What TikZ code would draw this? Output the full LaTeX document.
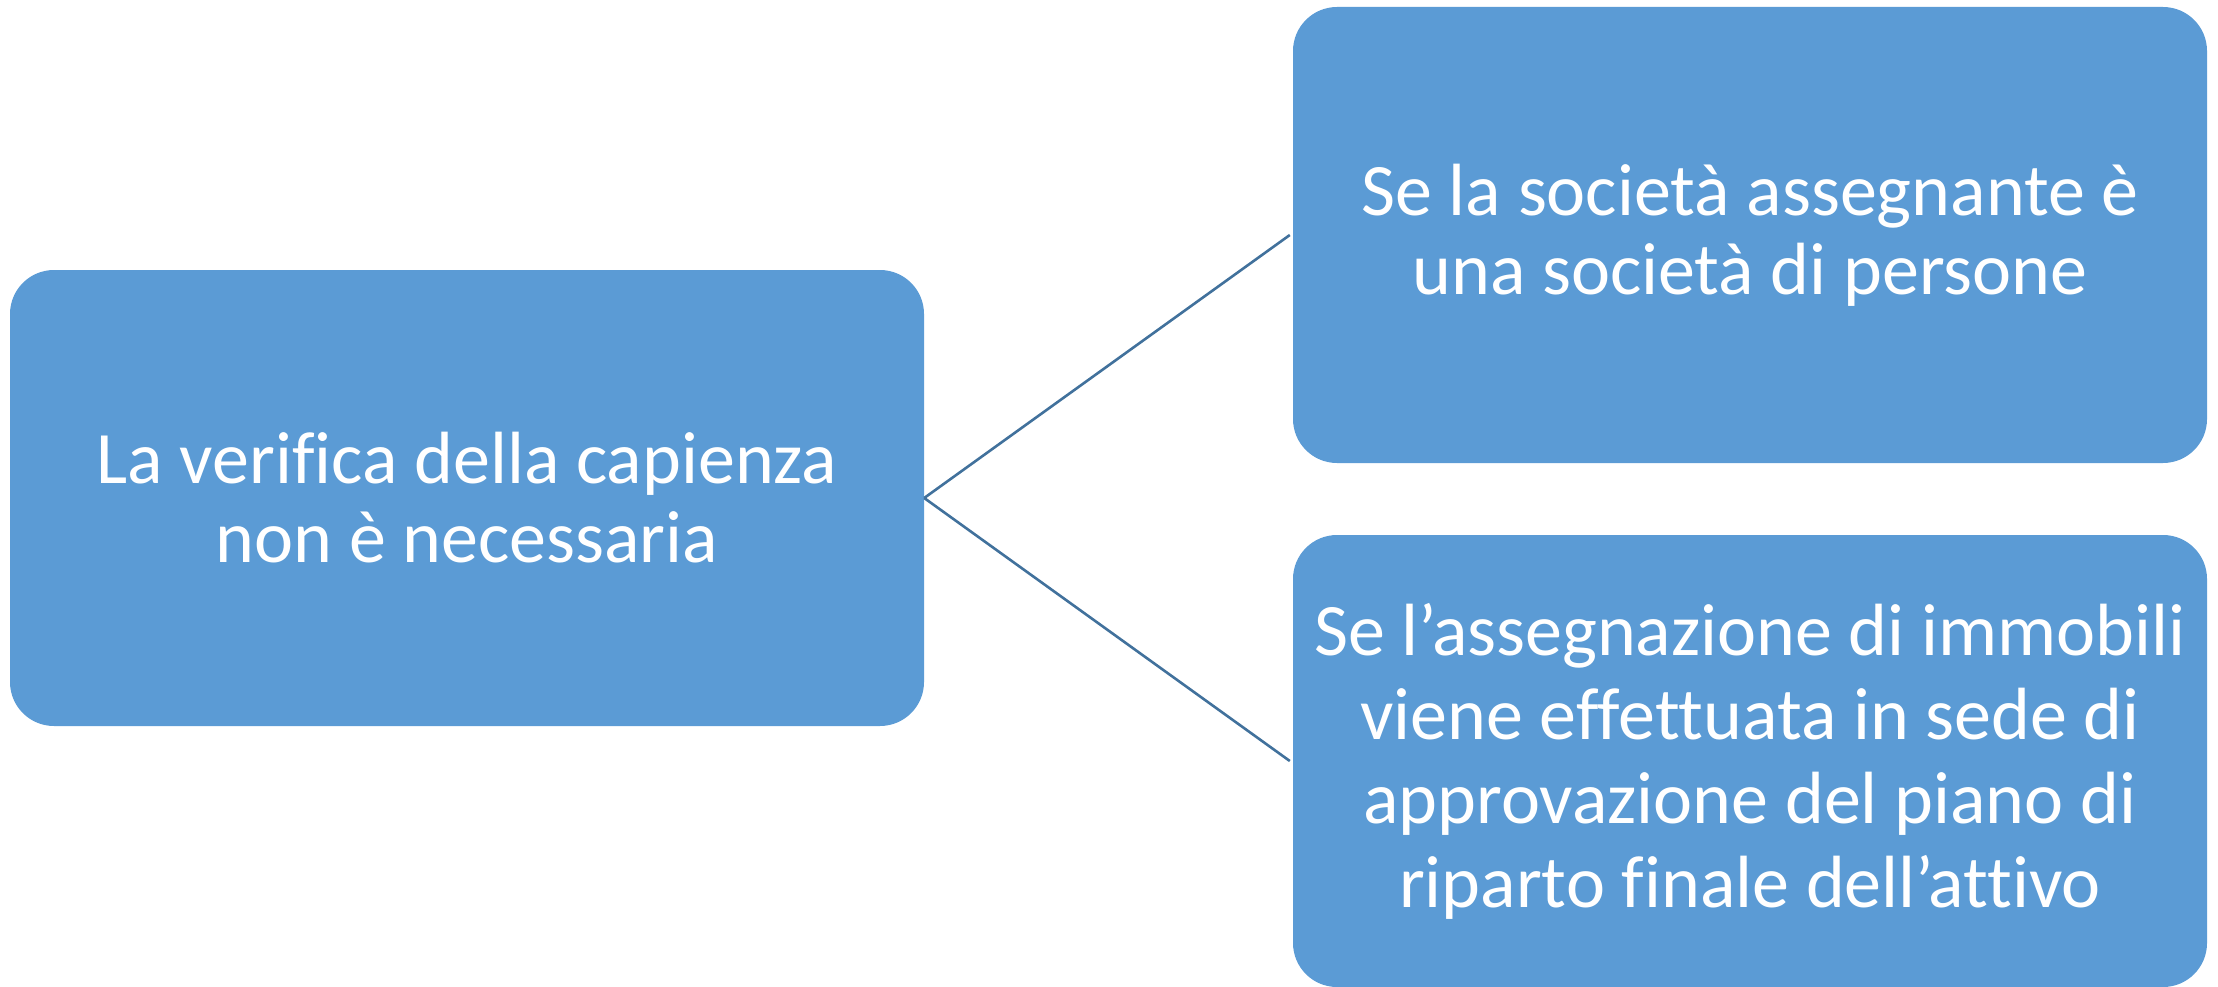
\documentclass[tikz,border=0pt]{standalone}
\usepackage{fontspec}
\setmainfont[Ligatures={NoCommon}]{Carlito}
\definecolor{boxblue}{HTML}{5B9BD5}
\definecolor{lineblue}{HTML}{41719C}
\begin{document}
\begin{tikzpicture}[x=1pt,y=-1pt,
  blk/.style={fill=boxblue, draw=none, rounded corners=44pt, text=white, align=center, font=\fontsize{74}{79}\selectfont, inner sep=0pt},
  conn/.style={draw=lineblue, line width=2.6pt}]
\useasboundingbox (0,0) rectangle (2218,987);
\node[blk, minimum width=914pt, minimum height=456pt] (L) at (467,498) {La verifica della capienza\\non è necessaria};
\node[blk, minimum width=914pt, minimum height=456pt] (T) at (1750,235) {Se la società assegnante è\\una società di persone};
\node[blk, minimum width=914pt, minimum height=452pt, font=\fontsize{74}{84}\selectfont] (B) at (1750,761) {Se l’assegnazione di immobili\\viene effettuata in sede di\\approvazione del piano di\\riparto finale dell’attivo};
\coordinate (A) at (L.east);
\draw[conn] (A) -- ([xshift=-3pt]T.west);
\draw[conn] (A) -- ([xshift=-3pt]B.west);
\end{tikzpicture}
\end{document}
